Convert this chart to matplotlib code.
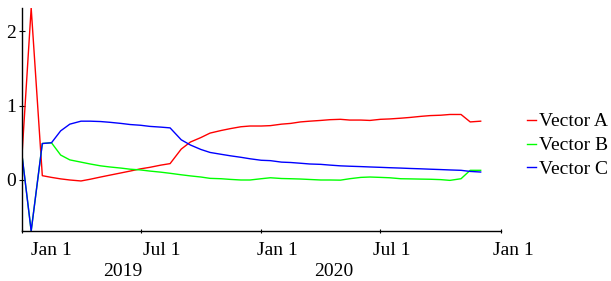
import matplotlib
matplotlib.use("Agg")
import matplotlib.pyplot as plt
import matplotlib.transforms as mtransforms
import pandas as pd
import numpy as np

plt.rcParams['font.family'] = ['Liberation Serif', 'DejaVu Serif']

dates = pd.date_range('2019-01-01', periods=47, freq='SMS')

vector_a = [0.335, 2.31, 0.058, 0.035, 0.015, 0.0, -0.013, 0.01, 0.04, 0.065,
            0.095, 0.12, 0.15, 0.17, 0.20, 0.22, 0.415, 0.51, 0.57, 0.63,
            0.665, 0.69, 0.715, 0.725, 0.725, 0.73, 0.75, 0.76, 0.78, 0.79,
            0.80, 0.81, 0.815, 0.805, 0.805, 0.80, 0.815, 0.82, 0.83, 0.84,
            0.855, 0.865, 0.87, 0.88, 0.88, 0.78, 0.79]
vector_b = [0.335, -0.685, 0.49, 0.50, 0.335, 0.27, 0.24, 0.215, 0.19, 0.175,
            0.16, 0.145, 0.135, 0.12, 0.105, 0.09, 0.07, 0.055, 0.04, 0.022,
            0.017, 0.008, 0.0, 0.0, 0.017, 0.03, 0.02, 0.017, 0.013, 0.007,
            0.0, 0.0, -0.002, 0.017, 0.035, 0.04, 0.035, 0.03, 0.017, 0.015,
            0.012, 0.01, 0.005, -0.005, 0.017, 0.13, 0.13]
vector_c = [0.335, -0.685, 0.49, 0.50, 0.66, 0.75, 0.79, 0.79, 0.785, 0.775,
            0.76, 0.745, 0.735, 0.72, 0.71, 0.70, 0.54, 0.47, 0.41, 0.37,
            0.345, 0.325, 0.305, 0.285, 0.265, 0.26, 0.24, 0.235, 0.225, 0.215,
            0.21, 0.20, 0.19, 0.185, 0.18, 0.175, 0.17, 0.165, 0.16, 0.155,
            0.15, 0.145, 0.14, 0.135, 0.13, 0.115, 0.107]

series_names = ['Vector A', 'Vector B', 'Vector C']
series_colors = ['#ff0000', '#00ff00', '#0000ff']

tick_dates = pd.to_datetime(['2019-01-01', '2019-07-01', '2020-01-01',
                             '2020-07-01', '2021-01-01'])
tick_labels = ['Jan 1', 'Jul 1', 'Jan 1', 'Jul 1', 'Jan 1']
year_labels = ['2019', '2020']
y_ticks = [0, 1, 2]

W, H = 611, 281
fig = plt.figure(figsize=(W / 100, H / 100), dpi=100)
ax = fig.add_axes([22 / W, (H - 231) / H, (501 - 22) / W, (231 - 8) / H])

for vals, name, col in zip([vector_a, vector_b, vector_c], series_names, series_colors):
    ax.plot(dates, vals, color=col, lw=1.0, label=name)

ax.set_xlim(tick_dates[0], tick_dates[-1])
allv = vector_a + vector_b + vector_c
ax.set_ylim(min(allv), max(allv))

for s in ['top', 'right']:
    ax.spines[s].set_visible(False)
for s in ['left', 'bottom']:
    ax.spines[s].set_linewidth(1.0)

fs = 14
ax.set_yticks(y_ticks)
ax.set_yticklabels([str(v) for v in y_ticks], fontsize=fs)
ax.tick_params(axis='y', direction='inout', length=5, width=0.8, pad=1.5)

ax.set_xticks(tick_dates)
ax.set_xticklabels(tick_labels, fontsize=fs)
ax.tick_params(axis='x', direction='inout', length=3.5, width=0.8, pad=6)
label_shift_px = [29.5, 20.8, 16.3, 11.8, 12.0]
for lbl, dx in zip(ax.get_xticklabels(), label_shift_px):
    lbl.set_transform(lbl.get_transform() +
                      mtransforms.ScaledTranslation(dx / 100, 0, fig.dpi_scale_trans))

year_px = [122.5, 334.0]
for txt, px in zip(year_labels, year_px):
    ax.text((px - 22) / 479, (231 - 271) / 223, txt, transform=ax.transAxes,
            ha='center', va='center', fontsize=fs)

ax.legend(loc='center left', bbox_to_anchor=(527 / W, (H - 145.5) / H),
          bbox_transform=fig.transFigure, frameon=False, fontsize=fs,
          handlelength=0.45, handletextpad=0.15, labelspacing=0.32,
          borderpad=0, borderaxespad=0)

fig.savefig('out.png', dpi=100)
